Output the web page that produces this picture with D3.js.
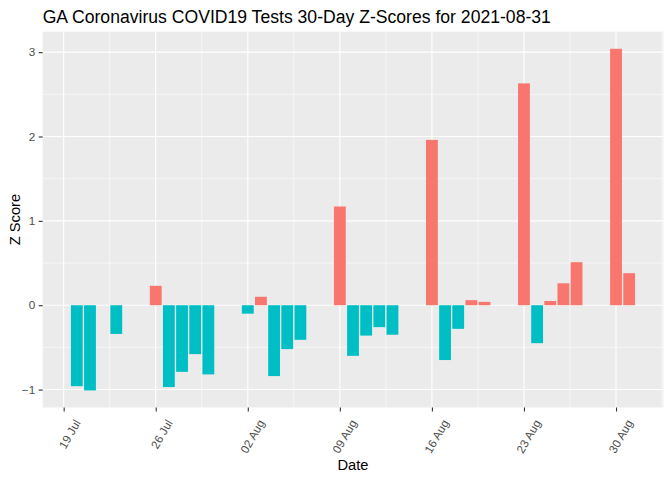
<!DOCTYPE html>
<html>
<head>
<meta charset="utf-8">
<script src="https://cdn.jsdelivr.net/npm/d3@7"></script>
<style>
  html, body { margin: 0; padding: 0; background: #ffffff; }
  svg { display: block; }
</style>
</head>
<body>
<script>
// ---- Data ----
const dates = [
  "2021-07-20","2021-07-21","2021-07-23","2021-07-26","2021-07-27","2021-07-28","2021-07-29","2021-07-30",
  "2021-08-02","2021-08-03","2021-08-04","2021-08-05","2021-08-06",
  "2021-08-09","2021-08-10","2021-08-11","2021-08-12","2021-08-13",
  "2021-08-16","2021-08-17","2021-08-18","2021-08-19","2021-08-20",
  "2021-08-23","2021-08-24","2021-08-25","2021-08-26","2021-08-27",
  "2021-08-30","2021-08-31"
];
const zScores = [
  -0.96, -1.01, -0.34, 0.23, -0.97, -0.79, -0.58, -0.82,
  -0.10, 0.10, -0.84, -0.52, -0.41,
  1.17, -0.60, -0.36, -0.26, -0.35,
  1.96, -0.65, -0.28, 0.06, 0.04,
  2.63, -0.45, 0.05, 0.26, 0.51,
  3.04, 0.38
];
const yTicks = [-1, 0, 1, 2, 3];
const yMinorTicks = [-0.5, 0.5, 1.5, 2.5];
const xTickDates = ["2021-07-19","2021-07-26","2021-08-02","2021-08-09","2021-08-16","2021-08-23","2021-08-30"];
const titleText = "GA Coronavirus COVID19 Tests 30-Day Z-Scores for 2021-08-31";
const xTitle = "Date";
const yTitle = "Z Score";

// ---- Layout ----
const W = 672, H = 480;
const panel = { left: 42.7, right: 663.3, top: 31.7, bottom: 407.5 };
const FONT = "'Liberation Sans', Arial, Helvetica, sans-serif";
const DAY = 86400000;
const parse = d3.utcParse("%Y-%m-%d");

const data = dates.map((d, i) => ({ date: parse(d), z: zScores[i] }));

const svg = d3.select("body").append("svg")
  .attr("width", W).attr("height", H)
  .style("font-family", FONT);

// ---- Scales (ggplot-like 5% expansion) ----
const barW = 0.9 * DAY;
const xMin = d3.min(data, d => +d.date) - barW / 2;
const xMax = d3.max(data, d => +d.date) + barW / 2;
const xPad = (xMax - xMin) * 0.05;
const x = d3.scaleUtc()
  .domain([new Date(xMin - xPad), new Date(xMax + xPad)])
  .range([panel.left, panel.right]);

const yLo = Math.min(0, d3.min(zScores)), yHi = Math.max(0, d3.max(zScores));
const yPad = (yHi - yLo) * 0.05;
const y = d3.scaleLinear()
  .domain([yLo - yPad, yHi + yPad])
  .range([panel.bottom, panel.top]);

// ---- Panel background ----
svg.append("rect")
  .attr("x", panel.left).attr("y", panel.top)
  .attr("width", panel.right - panel.left).attr("height", panel.bottom - panel.top)
  .attr("fill", "#EBEBEB");

const grid = svg.append("g");
// minor y
grid.selectAll("line.ymin").data(yMinorTicks).join("line")
  .attr("x1", panel.left).attr("x2", panel.right)
  .attr("y1", d => y(d)).attr("y2", d => y(d))
  .attr("stroke", "#ffffff").attr("stroke-width", 0.55);
// minor x (midpoints between weekly breaks)
const xTicks = xTickDates.map(parse);
const xMinor = [];
for (let i = -1; i < xTicks.length; i++) {
  const a = i < 0 ? +xTicks[0] - 7 * DAY : +xTicks[i];
  const m = new Date(a + 3.5 * DAY);
  if (+m > +x.domain()[0] && +m < +x.domain()[1]) xMinor.push(m);
}
grid.selectAll("line.xmin").data(xMinor).join("line")
  .attr("y1", panel.top).attr("y2", panel.bottom)
  .attr("x1", d => x(d)).attr("x2", d => x(d))
  .attr("stroke", "#ffffff").attr("stroke-width", 0.55);
// major
grid.selectAll("line.ymaj").data(yTicks).join("line")
  .attr("x1", panel.left).attr("x2", panel.right)
  .attr("y1", d => y(d)).attr("y2", d => y(d))
  .attr("stroke", "#ffffff").attr("stroke-width", 1.1);
grid.selectAll("line.xmaj").data(xTicks).join("line")
  .attr("y1", panel.top).attr("y2", panel.bottom)
  .attr("x1", d => x(d)).attr("x2", d => x(d))
  .attr("stroke", "#ffffff").attr("stroke-width", 1.1);

// ---- Bars ----
svg.append("g").selectAll("rect").data(data).join("rect")
  .attr("x", d => x(new Date(+d.date - barW / 2)))
  .attr("width", d => x(new Date(+d.date + barW / 2)) - x(new Date(+d.date - barW / 2)))
  .attr("y", d => y(Math.max(0, d.z)))
  .attr("height", d => Math.abs(y(d.z) - y(0)))
  .attr("fill", d => d.z > 0 ? "#F8766D" : "#00BFC4");

// ---- Y axis ----
const yAxis = d3.axisLeft(y).tickValues(yTicks).tickSize(4).tickPadding(3.5).tickFormat(d3.format("d"));
const gy = svg.append("g").attr("transform", `translate(${panel.left},0)`).call(yAxis);
gy.select(".domain").remove();
gy.selectAll(".tick line").attr("stroke", "#333333").attr("stroke-width", 1.1);
gy.selectAll(".tick text").attr("fill", "#4D4D4D").style("font-size", "11.7px").style("font-family", FONT);

// ---- X axis ----
const xAxis = d3.axisBottom(x).tickValues(xTicks).tickSize(4).tickFormat(d3.utcFormat("%d %b"));
const gx = svg.append("g").attr("transform", `translate(0,${panel.bottom})`).call(xAxis);
gx.select(".domain").remove();
gx.selectAll(".tick line").attr("stroke", "#333333").attr("stroke-width", 1.1);
gx.selectAll(".tick text")
  .attr("fill", "#4D4D4D").style("font-size", "11.7px").style("font-family", FONT)
  .attr("text-anchor", "end")
  .attr("y", 0).attr("dy", "0.72em")
  .attr("transform", "translate(9.5,11) rotate(-60)");

// ---- Titles ----
svg.append("text").attr("x", panel.left).attr("y", 23)
  .style("font-size", "17.6px").attr("fill", "#000000").text(titleText);
svg.append("text").attr("x", (panel.left + panel.right) / 2).attr("y", 470)
  .attr("text-anchor", "middle").style("font-size", "14.7px").attr("fill", "#000000").text(xTitle);
svg.append("text")
  .attr("transform", `translate(19.5,${(panel.top + panel.bottom) / 2}) rotate(-90)`)
  .attr("text-anchor", "middle").style("font-size", "14.7px").attr("fill", "#000000").text(yTitle);
</script>
</body>
</html>
